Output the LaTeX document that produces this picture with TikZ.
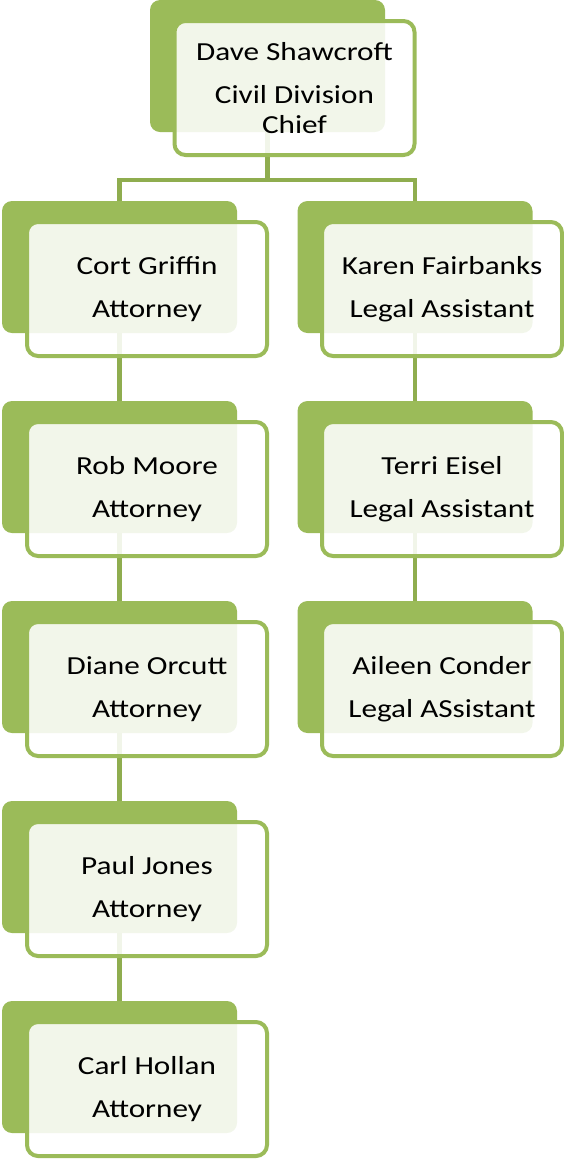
\documentclass[tikz,border=0pt]{standalone}
\usepackage{fontspec}
\setmainfont{Carlito}[FakeStretch=1.2]
\definecolor{ogreen}{HTML}{9BBB59}
\definecolor{lgreen}{HTML}{8FAD4F}
\begin{document}
\begin{tikzpicture}[x=1pt,y=-1pt,
  backbox/.style={draw=none,fill=ogreen,rounded corners=10pt,minimum width=235pt,minimum height=132pt,inner sep=0pt},
  frontbox/.style={draw=ogreen,line width=4pt,fill=white,fill opacity=0.88,text opacity=1,rounded corners=11pt,minimum width=240pt,minimum height=134pt,inner sep=0pt,align=center,font=\fontsize{26}{30}\selectfont,text=black},
  conn/.style={draw=lgreen,line width=4.5pt}]
\useasboundingbox (0,0) rectangle (563,1160);
% back rectangles
\node[backbox] (topb) at (267.5,66) {};
\node[backbox] (cgb) at (119.5,267) {};
\node[backbox] (rmb) at (119.5,467) {};
\node[backbox] (dob) at (119.5,667) {};
\node[backbox] (pjb) at (119.5,867) {};
\node[backbox] (chb) at (119.5,1067) {};
\node[backbox] (kfb) at (415,267) {};
\node[backbox] (teb) at (415,467) {};
\node[backbox] (acb) at (415,667) {};
% connectors
\coordinate (j) at (267.5,180);
\draw[conn] (topb.south) -- (j) -| (cgb.north);
\draw[conn] (j) -| (kfb.north);
\draw[conn] (cgb.south) -- (rmb.north);
\draw[conn] (rmb.south) -- (dob.north);
\draw[conn] (dob.south) -- (pjb.north);
\draw[conn] (pjb.south) -- (chb.north);
\draw[conn] (kfb.south) -- (teb.north);
\draw[conn] (teb.south) -- (acb.north);
% front boxes
\node[frontbox] (top) at (294.5,88) {Dave Shawcroft\\[13pt]Civil Division\\Chief};
\node[frontbox] (cg) at (147,289) {Cort Griffin\\[13pt]Attorney};
\node[frontbox] (rm) at (147,489) {Rob Moore\\[13pt]Attorney};
\node[frontbox] (do) at (147,689) {Diane Orcutt\\[13pt]Attorney};
\node[frontbox] (pj) at (147,889) {Paul Jones\\[13pt]Attorney};
\node[frontbox] (ch) at (147,1089) {Carl Hollan\\[13pt]Attorney};
\node[frontbox] (kf) at (442,289) {Karen Fairbanks\\[13pt]Legal Assistant};
\node[frontbox] (te) at (442,489) {Terri Eisel\\[13pt]Legal Assistant};
\node[frontbox] (ac) at (442,689) {Aileen Conder\\[13pt]Legal ASsistant};
\end{tikzpicture}
\end{document}
